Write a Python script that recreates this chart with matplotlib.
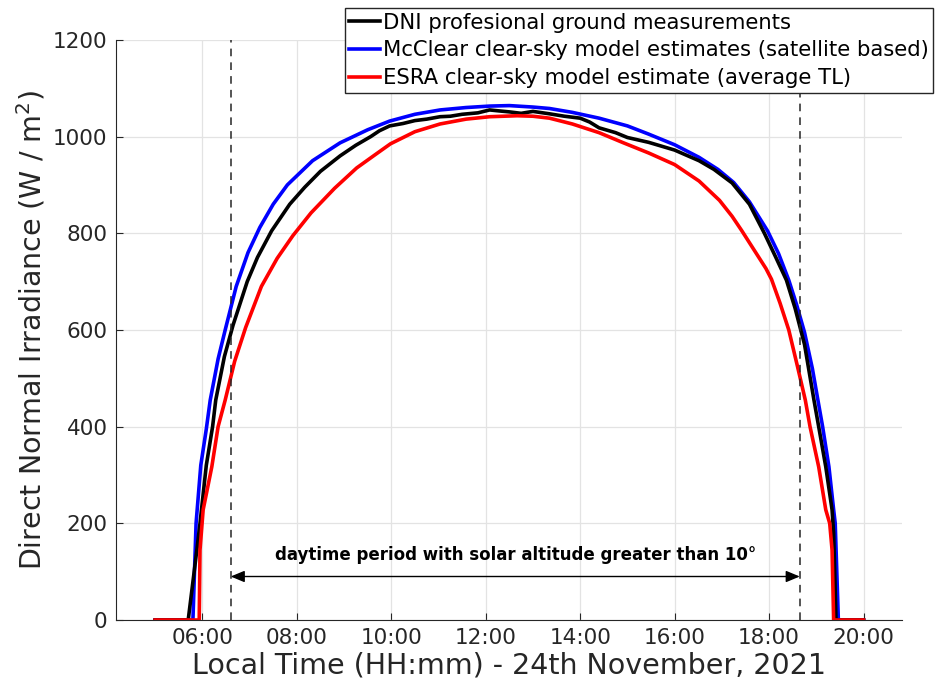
import matplotlib
matplotlib.use("Agg")
import matplotlib.pyplot as plt
import numpy as np


def hours(hhmm):
    # "HH:MM" -> decimal hours
    return np.array([int(t[:2]) + int(t[3:]) / 60 for t in hhmm])


# DNI ground measurements (black)
dni_time = ["05:00", "05:42", "05:53", "05:57", "06:05", "06:13", "06:17", "06:28", "06:39",
            "06:57", "07:10", "07:28", "07:51", "08:10", "08:30", "08:55", "09:15", "09:34",
            "09:45", "09:58", "10:15", "10:30", "10:45", "11:02", "11:15", "11:30", "11:50",
            "12:05", "12:17", "12:30", "12:45", "13:00", "13:21", "13:40", "14:00", "14:12",
            "14:24", "14:45", "15:00", "15:27", "16:00", "16:31", "16:50", "17:13", "17:35",
            "17:54", "18:08", "18:22", "18:33", "18:45", "18:57", "19:03", "19:12", "19:20",
            "19:22", "19:25", "20:00"]
dni_vals = [0, 0, 145, 200, 320, 400, 455, 545, 610,
            700, 750, 805, 860, 895, 928, 960, 982, 1000,
            1012, 1022, 1027, 1033, 1036, 1041, 1042, 1046, 1049,
            1055, 1053, 1051, 1048, 1052, 1047, 1042, 1038, 1030,
            1018, 1008, 998, 988, 972, 950, 932, 904, 860,
            800, 752, 703, 645, 570, 455, 400, 317, 228,
            180, 0, 0]

# McClear clear-sky model (blue)
mcc_time = ["05:00", "05:48", "05:52", "05:58", "06:05", "06:10", "06:20", "06:29", "06:43",
            "06:58", "07:13", "07:30", "07:48", "08:20", "08:55", "09:30", "09:58", "10:30",
            "11:02", "11:35", "12:05", "12:30", "13:00", "13:21", "13:50", "14:24", "15:00",
            "15:27", "16:00", "16:31", "16:55", "17:15", "17:35", "17:58", "18:12", "18:25",
            "18:35", "18:45", "18:55", "19:02", "19:08", "19:16", "19:22", "19:24", "19:28",
            "20:00"]
mcc_vals = [0, 0, 200, 320, 395, 455, 540, 600, 690,
            760, 812, 860, 900, 950, 987, 1014, 1032, 1046,
            1055, 1060, 1063, 1064, 1061, 1058, 1050, 1038, 1022,
            1005, 983, 957, 932, 905, 865, 805, 758, 703,
            652, 595, 520, 455, 400, 317, 228, 200, 0,
            0]

# ESRA clear-sky model (red)
esra_time = ["05:00", "05:56", "05:57", "06:01", "06:12", "06:20", "06:29", "06:41", "06:55",
             "07:15", "07:35", "07:55", "08:18", "08:48", "09:16", "09:40", "09:59", "10:30",
             "11:02", "11:35", "12:05", "12:40", "13:00", "13:21", "13:50", "14:24", "14:55",
             "15:27", "16:00", "16:31", "16:57", "17:13", "17:25", "17:56", "18:03", "18:14",
             "18:25", "18:36", "18:46", "18:52", "19:03", "19:12", "19:17", "19:20", "19:22",
             "20:00"]
esra_vals = [0, 0, 145, 228, 317, 400, 455, 535, 605,
             690, 748, 795, 842, 893, 935, 963, 985, 1010,
             1026, 1036, 1041, 1043, 1042, 1038, 1026, 1008, 987,
             966, 942, 908, 868, 835, 806, 727, 705, 655,
             600, 525, 455, 400, 317, 228, 200, 145, 0,
             0]

sun_limits = ["06:36", "18:39"]
x_ticks = ["06:00", "08:00", "10:00", "12:00", "14:00", "16:00", "18:00", "20:00"]

labels = ["DNI profesional ground measurements",
          "McClear clear-sky model estimates (satellite based)",
          "ESRA clear-sky model estimate (average TL)"]

txt = "#262626"

fig = plt.figure(figsize=(9.35, 6.87), dpi=100)
ax = fig.add_axes([0.124, 0.0975, 0.841, 0.8445])

l2, = ax.plot(hours(mcc_time), mcc_vals, color="#0000ff", lw=2.6)
l1, = ax.plot(hours(dni_time), dni_vals, color="black", lw=2.6)
l3, = ax.plot(hours(esra_time), esra_vals, color="#ff0000", lw=2.6)

lim = hours(sun_limits)
for xv in lim:
    ax.axvline(xv, color="#262626", ls=(0, (5, 4)), lw=1.1)
ax.annotate("", xy=(lim[0], 90), xytext=(lim[1], 90),
            arrowprops=dict(arrowstyle="<|-|>,head_length=0.6,head_width=0.25", color="black",
                            lw=1.0, mutation_scale=14, shrinkA=0, shrinkB=0))
ax.text(lim.mean(), 135, "daytime period with solar altitude greater than 10°",
        ha="center", va="center", fontsize=12, fontweight="bold")

ax.set_xlim(4.17, 20.82)
ax.set_ylim(0, 1200)
ax.set_xticks(hours(x_ticks))
ax.set_xticklabels(x_ticks)
ax.set_yticks(np.arange(0, 1201, 200))
ax.grid(True, color="#e3e3e3", lw=0.9)
ax.set_axisbelow(True)
for s in ["top", "right"]:
    ax.spines[s].set_visible(False)
for s in ["left", "bottom"]:
    ax.spines[s].set_color(txt)
ax.tick_params(direction="in", length=5, labelsize=15.5, colors=txt, pad=6)

ax.set_xlabel("Local Time (HH:mm) - 24th November, 2021", fontsize=20.5, color=txt, labelpad=2)
ax.set_ylabel("Direct Normal Irradiance (W / m$^2$)", fontsize=20.5, color=txt, labelpad=4)

leg = fig.legend([l1, l2, l3], labels, loc="upper right", bbox_to_anchor=(0.998, 0.988),
                 fontsize=15.2, handlelength=1.45, handletextpad=0.12, labelspacing=0.36,
                 borderpad=0.22, borderaxespad=0, fancybox=False, framealpha=1, edgecolor=txt)
leg.get_frame().set_linewidth(1.0)
for t in leg.get_texts():
    t.set_color("black")

fig.savefig("out.png", dpi=100)
